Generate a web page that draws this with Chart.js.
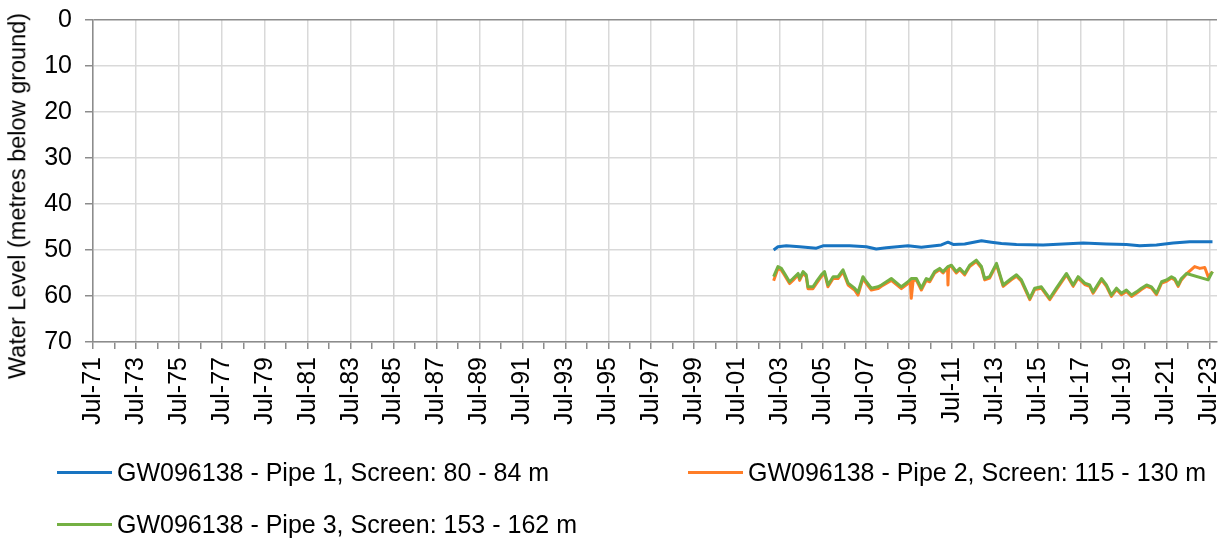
<!DOCTYPE html>
<html>
<head>
<meta charset="utf-8">
<script src="https://cdn.jsdelivr.net/npm/chart.js@4.4.1/dist/chart.umd.min.js"></script>
<style>
  html, body { margin: 0; padding: 0; background: #fff; }
  #wrap { position: relative; width: 1232px; height: 544px; overflow: hidden; font-family: "Liberation Sans", Arial, sans-serif; color: #000; }
  #chartBox { position: absolute; left: 0; top: 0; width: 1232px; height: 544px; }
  #ytitle { position: absolute; left: 18px; top: 196px; transform: translate(-50%, -50%) rotate(-90deg); white-space: nowrap; font-size: 23.5px; line-height: 1; }
  .leg { position: absolute; display: flex; align-items: center; white-space: nowrap; font-size: 25px; line-height: 1; }
  .leg .sw { width: 55px; height: 3px; margin-right: 5px; }
</style>
</head>
<body>
<div id="wrap">
  <div id="chartBox"><canvas id="c"></canvas></div>
  <div id="ytitle"></div>
  <div id="legend"></div>
</div>
<script>
// ---------- data ----------
const yAxisTitle = 'Water Level (metres below ground)';
const seriesNames = [
  'GW096138 - Pipe 1, Screen: 80 - 84 m',
  'GW096138 - Pipe 2, Screen: 115 - 130 m',
  'GW096138 - Pipe 3, Screen: 153 - 162 m'
];
const seriesColors = ['#1874c1', '#ff7d27', '#74b043'];

const xTickLabels = ['Jul-71','Jul-73','Jul-75','Jul-77','Jul-79','Jul-81','Jul-83','Jul-85','Jul-87',
  'Jul-89','Jul-91','Jul-93','Jul-95','Jul-97','Jul-99','Jul-01','Jul-03','Jul-05','Jul-07','Jul-09',
  'Jul-11','Jul-13','Jul-15','Jul-17','Jul-19','Jul-21','Jul-23'];
const yTickValues = [0, 10, 20, 30, 40, 50, 60, 70];

// dates as decimal years
const pipe1Dates  = [2003.20, 2003.40, 2003.79, 2004.41, 2005.19, 2005.50, 2006.74, 2007.52, 2007.98, 2008.45,
  2009.46, 2010.08, 2011.01, 2011.32, 2011.56, 2012.10, 2012.88, 2013.34, 2013.81, 2014.51,
  2015.75, 2016.68, 2017.62, 2018.70, 2019.63, 2020.25, 2021.03, 2021.81, 2022.58, 2023.64];
const pipe1Levels = [50.0, 49.3, 49.1, 49.3, 49.6, 49.1, 49.1, 49.3, 49.8, 49.5,
  49.1, 49.4, 48.9, 48.3, 48.8, 48.7, 48.0, 48.3, 48.6, 48.8,
  48.9, 48.7, 48.5, 48.7, 48.8, 49.1, 48.9, 48.5, 48.2, 48.2];

const pipe2Dates  = [2003.20, 2003.40, 2003.56, 2003.71, 2003.94, 2004.10, 2004.34, 2004.41, 2004.57, 2004.72,
  2004.80, 2005.03, 2005.19, 2005.42, 2005.57, 2005.73, 2005.97, 2006.20, 2006.43, 2006.67,
  2006.97, 2007.13, 2007.36, 2007.52, 2007.75, 2008.06, 2008.22, 2008.68, 2009.15, 2009.46,
  2009.56, 2009.61, 2009.70, 2009.85, 2010.08, 2010.31, 2010.47, 2010.70, 2010.93, 2011.09,
  2011.30, 2011.32, 2011.35, 2011.48, 2011.71, 2011.87, 2012.10, 2012.33, 2012.64, 2012.88,
  2013.03, 2013.26, 2013.58, 2013.89, 2014.27, 2014.51, 2014.74, 2015.13, 2015.36, 2015.67,
  2016.06, 2016.37, 2016.84, 2017.15, 2017.38, 2017.69, 2017.92, 2018.08, 2018.23, 2018.47,
  2018.70, 2018.93, 2019.17, 2019.40, 2019.63, 2019.87, 2020.10, 2020.33, 2020.57, 2020.80,
  2021.03, 2021.27, 2021.50, 2021.73, 2021.88, 2022.04, 2022.19, 2022.43, 2022.81, 2023.05,
  2023.28, 2023.44, 2023.64];
const pipe2Levels = [56.7, 54.0, 54.4, 55.5, 57.3, 56.6, 55.4, 56.6, 55.0, 55.8,
  58.4, 58.4, 57.3, 55.8, 55.0, 58.0, 56.2, 56.2, 54.7, 57.6,
  58.7, 59.8, 56.2, 57.3, 58.7, 58.4, 57.9, 56.6, 58.4, 57.3,
  56.6, 60.5, 56.6, 56.6, 58.7, 56.6, 56.9, 55.0, 54.3, 55.0,
  53.8, 57.6, 53.6, 53.6, 55.0, 54.3, 55.4, 53.6, 52.5, 53.9,
  56.5, 56.1, 53.2, 57.9, 56.5, 55.7, 56.8, 60.8, 58.6, 58.3,
  60.8, 58.6, 55.4, 57.9, 56.1, 57.5, 57.9, 59.4, 58.3, 56.5,
  57.9, 60.1, 58.6, 59.7, 59.0, 60.1, 59.4, 58.6, 57.9, 58.3,
  59.7, 57.2, 56.8, 56.1, 56.5, 57.9, 56.5, 55.2, 53.6, 54.0,
  53.8, 55.8, 54.7];

const pipe3Dates  = [2003.20, 2003.40, 2003.56, 2003.71, 2003.94, 2004.10, 2004.34, 2004.41, 2004.57, 2004.72,
  2004.80, 2005.03, 2005.19, 2005.42, 2005.57, 2005.73, 2005.97, 2006.20, 2006.43, 2006.67,
  2006.97, 2007.13, 2007.36, 2007.52, 2007.75, 2008.06, 2008.22, 2008.68, 2009.15, 2009.46,
  2009.61, 2009.85, 2010.08, 2010.31, 2010.47, 2010.70, 2010.93, 2011.09, 2011.32, 2011.48,
  2011.71, 2011.87, 2012.10, 2012.33, 2012.64, 2012.88, 2013.03, 2013.26, 2013.58, 2013.89,
  2014.27, 2014.51, 2014.74, 2015.13, 2015.36, 2015.67, 2016.06, 2016.37, 2016.84, 2017.15,
  2017.38, 2017.69, 2017.92, 2018.08, 2018.23, 2018.47, 2018.70, 2018.93, 2019.17, 2019.40,
  2019.63, 2019.87, 2020.10, 2020.33, 2020.57, 2020.80, 2021.03, 2021.27, 2021.50, 2021.73,
  2021.88, 2022.04, 2022.19, 2022.43, 2023.44, 2023.64];
const pipe3Levels = [55.8, 53.6, 54.0, 55.1, 56.9, 56.2, 55.1, 56.2, 54.7, 55.4,
  58.0, 58.0, 56.9, 55.4, 54.7, 57.6, 55.8, 55.8, 54.3, 57.2,
  58.3, 59.2, 55.8, 56.9, 58.3, 58.0, 57.6, 56.2, 58.0, 56.9,
  56.2, 56.2, 58.3, 56.2, 56.5, 54.7, 54.0, 54.7, 53.6, 53.3,
  54.7, 54.0, 55.1, 53.3, 52.2, 53.6, 56.2, 55.8, 52.9, 57.6,
  56.2, 55.4, 56.5, 60.5, 58.3, 58.0, 60.5, 58.3, 55.1, 57.6,
  55.8, 57.2, 57.6, 59.1, 58.0, 56.2, 57.6, 59.8, 58.3, 59.4,
  58.7, 59.8, 59.1, 58.3, 57.6, 58.0, 59.4, 56.9, 56.5, 55.8,
  56.2, 57.6, 56.2, 55.1, 56.5, 54.7];

// ---------- build ----------
function labelYear(lbl) {
  const yy = parseInt(lbl.slice(4), 10);
  return (yy > 50 ? 1900 : 2000) + yy + 0.5;
}
const majorTicks = xTickLabels.map(labelYear);
const labelByYear = {};
xTickLabels.forEach((l, i) => { labelByYear[majorTicks[i].toFixed(1)] = l; });
const allTicks = [];
majorTicks.forEach((v, i) => { allTicks.push(v); if (i < majorTicks.length - 1) allTicks.push(v + 1); });

const toPts = (d, v) => d.map((x, i) => ({ x: x, y: v[i] }));
const seriesData = [toPts(pipe1Dates, pipe1Levels), toPts(pipe2Dates, pipe2Levels), toPts(pipe3Dates, pipe3Levels)];
const drawOrder = [0, 1, 0];

const FONT = '"Liberation Sans", Arial, sans-serif';
const AXIS = '#8c8c8c';
const GRID = '#d9d9d9';

new Chart(document.getElementById('c'), {
  type: 'line',
  data: {
    datasets: seriesNames.map((n, i) => ({
      label: n,
      data: seriesData[i],
      borderColor: seriesColors[i],
      backgroundColor: seriesColors[i],
      borderWidth: 3,
      pointRadius: 0,
      tension: 0,
      fill: false,
      order: drawOrder[i],
      borderJoinStyle: 'round'
    }))
  },
  options: {
    responsive: true,
    maintainAspectRatio: false,
    animation: false,
    layout: { padding: { left: 0, top: 20, right: 15, bottom: 0 } },
    plugins: { legend: { display: false }, tooltip: { enabled: false } },
    scales: {
      x: {
        type: 'linear',
        min: 1971.5,
        max: 2023.85,
        afterBuildTicks: (s) => { s.ticks = allTicks.map(v => ({ value: v })); },
        afterFit: (s) => { s.height = 202; s.paddingRight = 0; s.paddingLeft = 0; },
        border: { color: AXIS, width: 1.5 },
        grid: {
          color: (ctx) => (ctx.tick && labelByYear[ctx.tick.value.toFixed(1)]) ? GRID : 'rgba(0,0,0,0)',
          lineWidth: 1.5,
          tickColor: AXIS,
          tickLength: 7,
          drawOnChartArea: true
        },
        ticks: {
          autoSkip: false,
          minRotation: 90,
          maxRotation: 90,
          padding: 8,
          color: '#000',
          font: { family: FONT, size: 25 },
          callback: (v) => labelByYear[Number(v).toFixed(1)] || ''
        }
      },
      y: {
        reverse: true,
        min: 0,
        max: 70,
        afterBuildTicks: (s) => { s.ticks = yTickValues.map(v => ({ value: v })); },
        afterFit: (s) => { s.width = 93; s.paddingTop = 0; s.paddingBottom = 0; },
        border: { color: AXIS, width: 1.5 },
        grid: {
          color: (ctx) => (ctx.tick && ctx.tick.value === 0) ? AXIS : GRID,
          lineWidth: 1.5,
          tickColor: AXIS,
          tickLength: 8
        },
        ticks: {
          padding: 13,
          color: '#000',
          font: { family: FONT, size: 25 }
        }
      }
    }
  }
});

// y-axis title
document.getElementById('ytitle').textContent = yAxisTitle;

// legend
const legendPos = [[57, 472], [688, 472], [57, 524]];
const legend = document.getElementById('legend');
seriesNames.forEach((n, i) => {
  const d = document.createElement('div');
  d.className = 'leg';
  d.style.left = legendPos[i][0] + 'px';
  d.style.top = (legendPos[i][1] - 13) + 'px';
  d.style.height = '26px';
  const sw = document.createElement('span');
  sw.className = 'sw';
  sw.style.background = seriesColors[i];
  const t = document.createElement('span');
  t.textContent = n;
  d.appendChild(sw); d.appendChild(t);
  legend.appendChild(d);
});
</script>
</body>
</html>
